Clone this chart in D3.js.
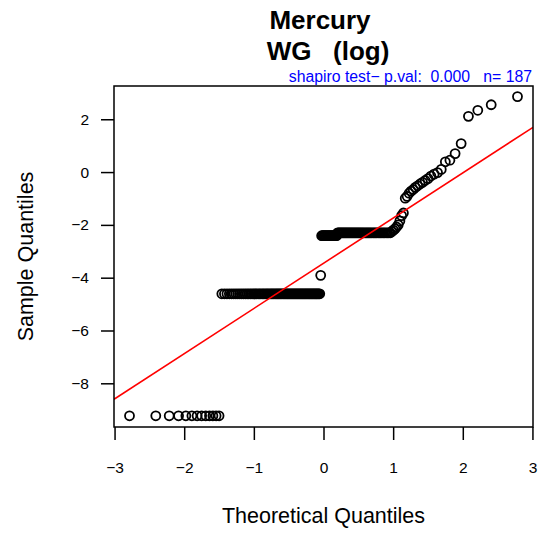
<!DOCTYPE html>
<html>
<head>
<meta charset="utf-8">
<script src="https://cdn.jsdelivr.net/npm/d3@7/dist/d3.min.js"></script>
<style>
  body { margin: 0; background: #fff; }
  svg { display: block; font-family: "Liberation Sans", Arial, sans-serif; }
</style>
</head>
<body>
<div class="graph"></div>
<script>
// Sample values (log mercury)
var repeatedValues = [-9.23, -4.61, -3.91, -2.41, -2.30];
var repeatedCounts = [13, 77, 1, 17, 48];
var upperTail = [-2.25, -2.20, -2.15, -2.08, -2.00, -1.85, -1.65, -1.55,
    -0.99, -0.92, -0.80, -0.72, -0.66, -0.58, -0.52, -0.45, -0.39, -0.32,
    -0.25, -0.15, -0.08, -0.02, 0.10, 0.39, 0.45, 0.70, 1.08, 2.11, 2.34,
    2.55, 2.86];

var xTicks = [-3, -2, -1, 0, 1, 2, 3];
var yTicks = [-8, -6, -4, -2, 0, 2];

var titleLines = ["Mercury", "WG   (log)"];
var subTitle = "shapiro test\u2212 p.val:  0.000   n= 187";

// Configuration
var width = 540;
var height = 533;
var plot = {left: 114, right: 533, top: 86, bottom: 427};
var tickLen = 13;

// Build sorted sample
var sample = [];
repeatedValues.forEach(function (v, i) {
    for (var k = 0; k < repeatedCounts[i]; k++) sample.push(v);
});
sample = sample.concat(upperTail).sort(d3.ascending);
var n = sample.length;

// inverse normal CDF (Acklam)
function qnorm(p) {
    var a = [-3.969683028665376e+01, 2.209460984245205e+02, -2.759285104469687e+02,
             1.383577518672690e+02, -3.066479806614716e+01, 2.506628277459239e+00];
    var b = [-5.447609879822406e+01, 1.615858368580409e+02, -1.556989798598866e+02,
             6.680131188771972e+01, -1.328068155288572e+01];
    var c = [-7.784894002430293e-03, -3.223964580411365e-01, -2.400758277161838e+00,
             -2.549732539343734e+00, 4.374664141464968e+00, 2.938163982698783e+00];
    var d = [7.784695709041462e-03, 3.224671290700398e-01, 2.445134137142996e+00,
             3.754408661907416e+00];
    var plow = 0.02425, q, r;
    if (p < plow) {
        q = Math.sqrt(-2 * Math.log(p));
        return (((((c[0]*q+c[1])*q+c[2])*q+c[3])*q+c[4])*q+c[5]) /
               ((((d[0]*q+d[1])*q+d[2])*q+d[3])*q+1);
    }
    if (p > 1 - plow) {
        q = Math.sqrt(-2 * Math.log(1 - p));
        return -(((((c[0]*q+c[1])*q+c[2])*q+c[3])*q+c[4])*q+c[5]) /
                ((((d[0]*q+d[1])*q+d[2])*q+d[3])*q+1);
    }
    q = p - 0.5; r = q * q;
    return (((((a[0]*r+a[1])*r+a[2])*r+a[3])*r+a[4])*r+a[5])*q /
           (((((b[0]*r+b[1])*r+b[2])*r+b[3])*r+b[4])*r+1);
}

var points = sample.map(function (v, i) {
    return {x: qnorm((i + 1 - 0.5) / n), y: v};
});

// qqline through the quartiles
var q1 = d3.quantile(sample, 0.25), q3 = d3.quantile(sample, 0.75);
var x1 = qnorm(0.25), x2 = qnorm(0.75);
var slope = (q3 - q1) / (x2 - x1);
var intercept = q1 - slope * x1;

// Scales
var xScale = d3.scaleLinear().domain([-3.008, 3.008]).range([plot.left, plot.right]);
var yScale = d3.scaleLinear().domain([-9.655, 3.26]).range([plot.bottom, plot.top]);

var svg = d3.select(".graph").append("svg")
    .attr("width", width)
    .attr("height", height);

svg.append("clipPath").attr("id", "clip")
  .append("rect")
    .attr("x", plot.left).attr("y", plot.top)
    .attr("width", plot.right - plot.left).attr("height", plot.bottom - plot.top);

// Points
svg.append("g").selectAll("circle").data(points).enter().append("circle")
    .attr("cx", function (d) { return xScale(d.x); })
    .attr("cy", function (d) { return yScale(d.y); })
    .attr("r", 4.5)
    .attr("fill", "none")
    .attr("stroke", "#000")
    .attr("stroke-width", 1.8);

// Reference line
var xd = xScale.domain();
svg.append("line")
    .attr("clip-path", "url(#clip)")
    .attr("x1", xScale(xd[0])).attr("y1", yScale(intercept + slope * xd[0]))
    .attr("x2", xScale(xd[1])).attr("y2", yScale(intercept + slope * xd[1]))
    .attr("stroke", "red")
    .attr("stroke-width", 1.6);

// Box
svg.append("rect")
    .attr("x", plot.left).attr("y", plot.top)
    .attr("width", plot.right - plot.left).attr("height", plot.bottom - plot.top)
    .attr("fill", "none").attr("stroke", "#000").attr("stroke-width", 1.5);

var fmt = function (d) { return d < 0 ? "\u2212" + Math.abs(d) : String(d); };

// Axes
var gx = svg.append("g")
    .attr("transform", "translate(0," + plot.bottom + ")")
    .call(d3.axisBottom(xScale).tickValues(xTicks).tickFormat(fmt)
        .tickSize(tickLen).tickSizeOuter(0));
gx.selectAll("text").attr("y", 46).attr("dy", null);

var gy = svg.append("g")
    .attr("transform", "translate(" + plot.left + ",0)")
    .call(d3.axisLeft(yScale).tickValues(yTicks).tickFormat(fmt)
        .tickSize(tickLen).tickSizeOuter(0).tickPadding(12));

svg.selectAll(".domain").remove();
svg.selectAll(".tick line").attr("stroke", "#000").attr("stroke-width", 1.5);
svg.selectAll(".tick text")
    .attr("font-family", "Liberation Sans, Arial, sans-serif")
    .attr("font-size", 15.5)
    .attr("fill", "#000");

// Titles
svg.append("text")
    .attr("x", 320).attr("y", 28.5)
    .attr("text-anchor", "middle")
    .attr("font-size", 26).attr("font-weight", "bold")
    .text(titleLines[0]);
svg.append("text")
    .attr("x", 328).attr("y", 60)
    .attr("text-anchor", "middle")
    .attr("font-size", 26).attr("font-weight", "bold")
    .style("white-space", "pre")
    .text(titleLines[1]);
svg.append("text")
    .attr("x", 532).attr("y", 82)
    .attr("text-anchor", "end")
    .attr("font-size", 15.8)
    .attr("fill", "blue")
    .style("white-space", "pre")
    .text(subTitle);

// Axis titles
svg.append("text")
    .attr("x", (plot.left + plot.right) / 2).attr("y", 523)
    .attr("text-anchor", "middle")
    .attr("font-size", 21.5)
    .text("Theoretical Quantiles");
svg.append("text")
    .attr("transform", "translate(33," + ((plot.top + plot.bottom) / 2) + ") rotate(-90)")
    .attr("text-anchor", "middle")
    .attr("font-size", 21.5)
    .text("Sample Quantiles");
</script>
</body>
</html>
